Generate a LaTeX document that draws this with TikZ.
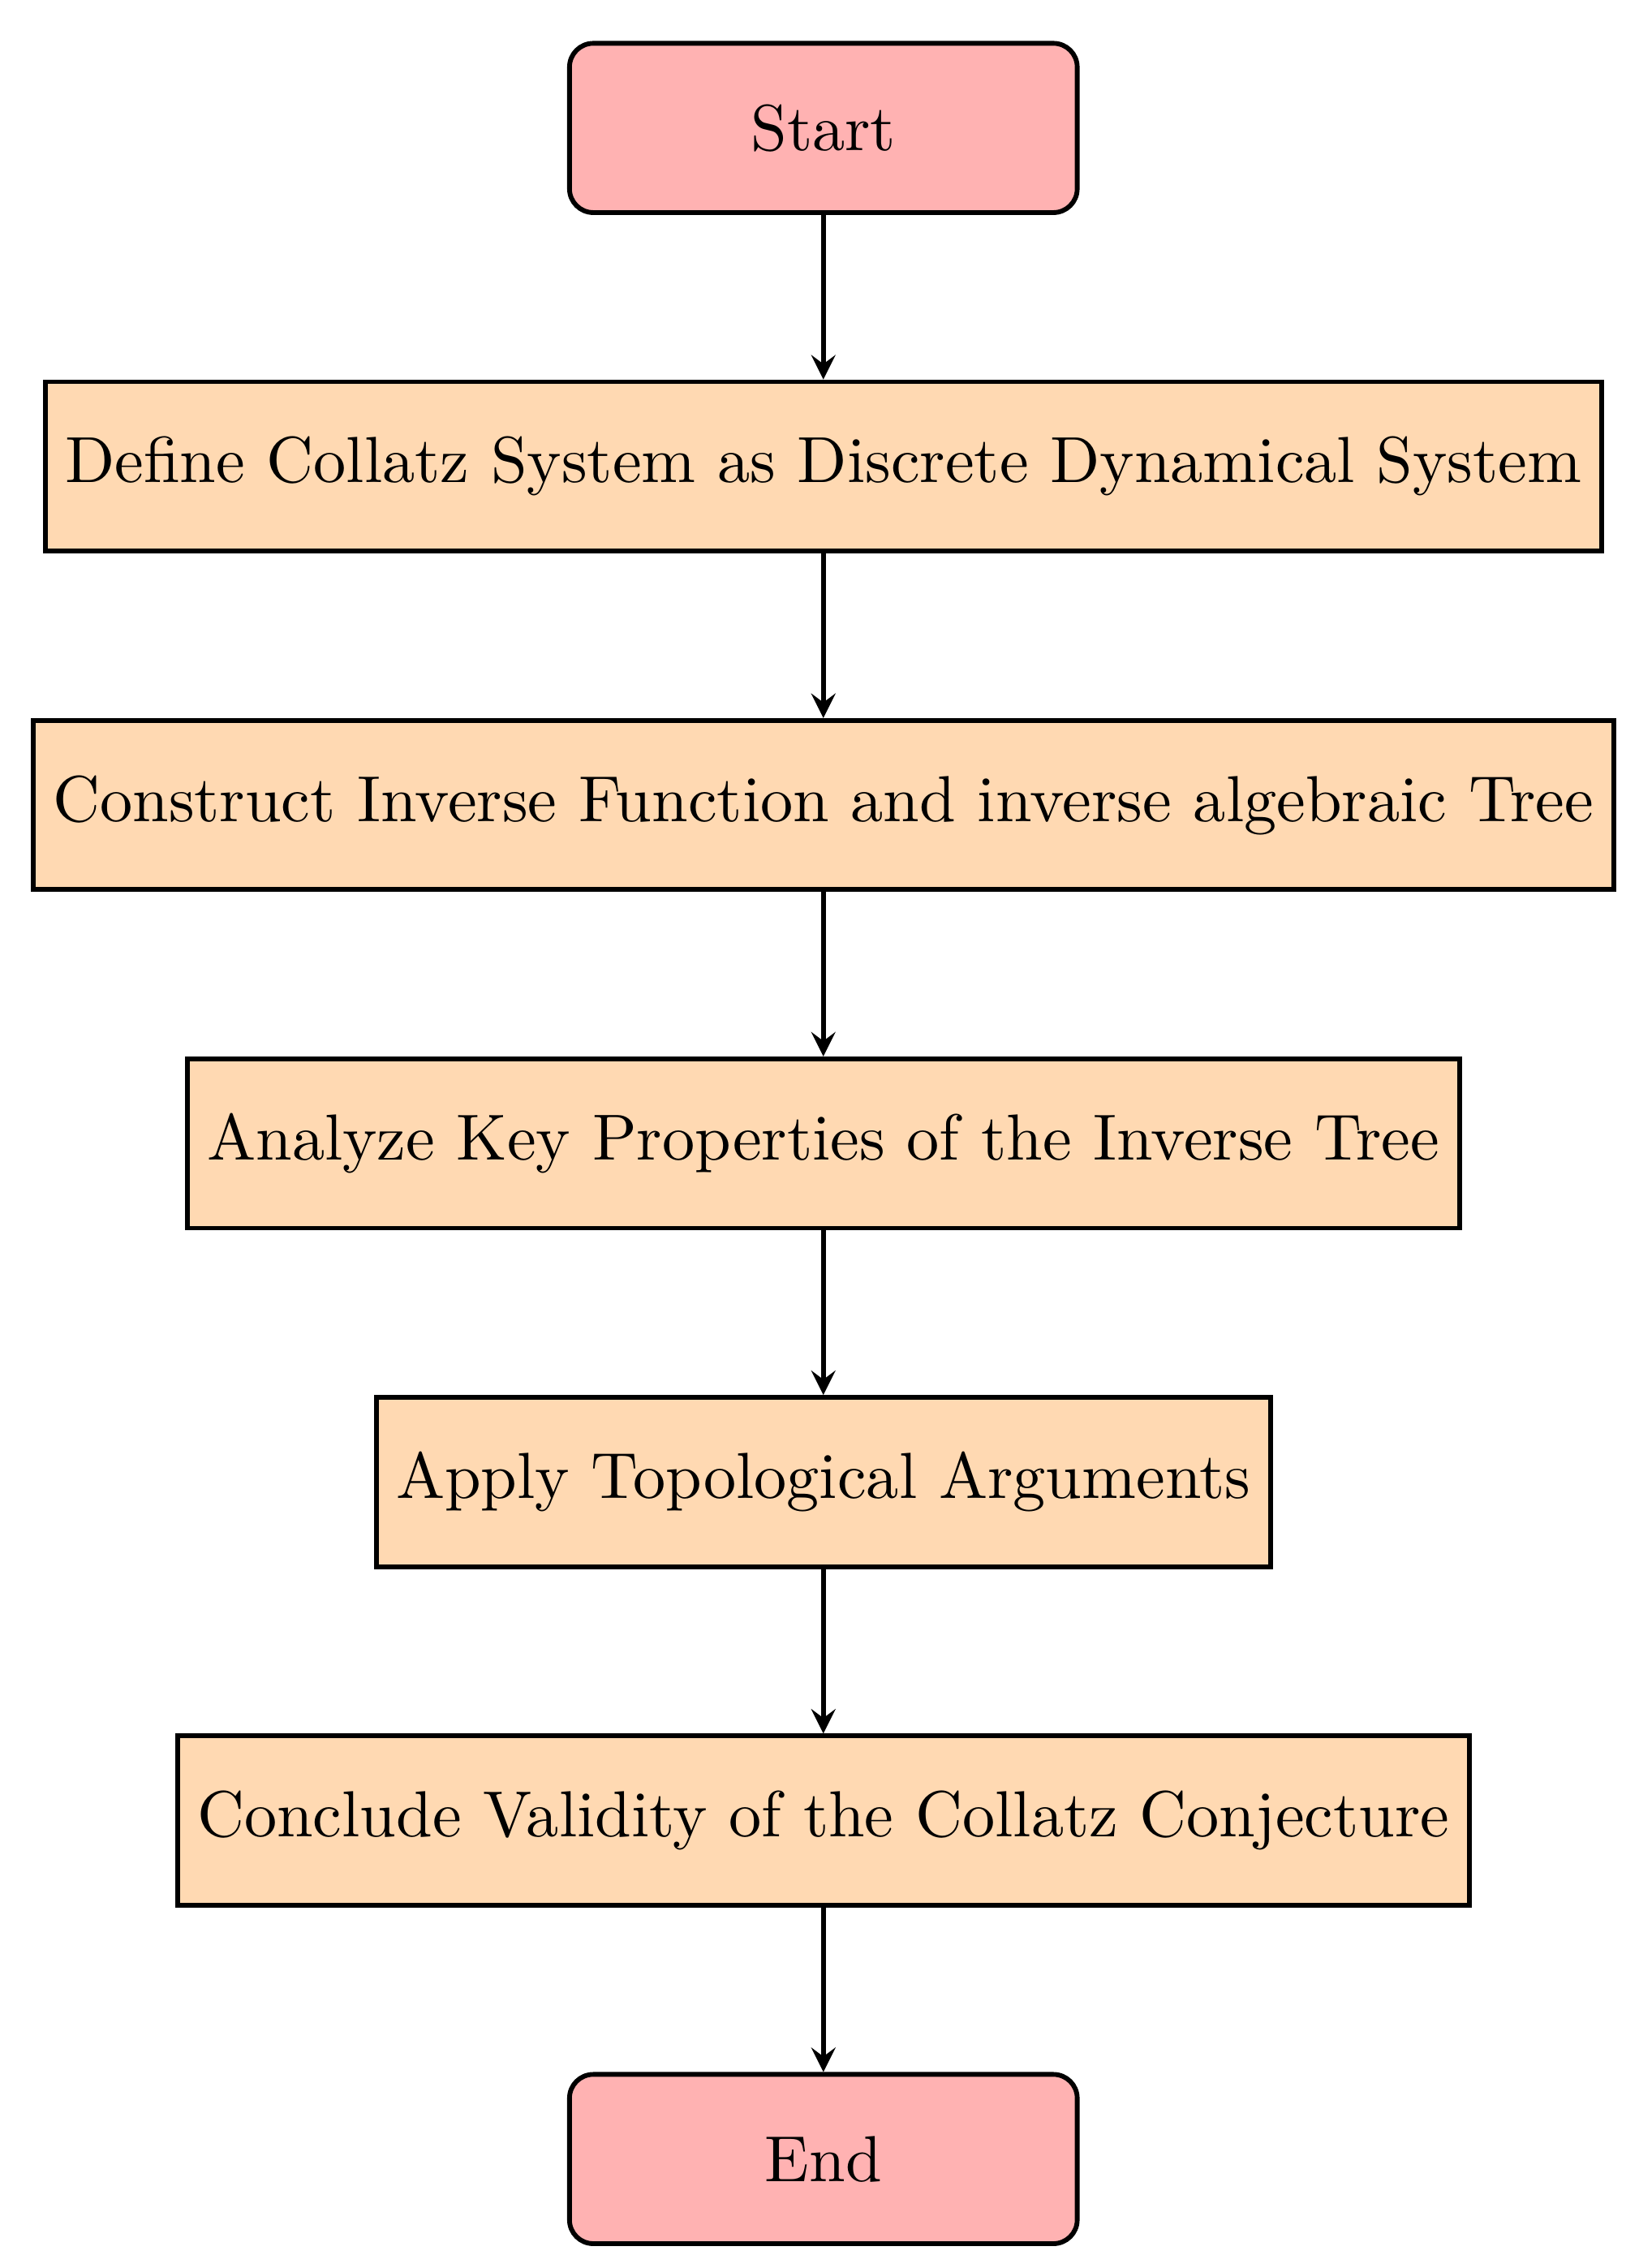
\documentclass[tikz,border=0pt]{standalone}
\usetikzlibrary{arrows.meta}
\begin{document}
\begin{tikzpicture}[
  every node/.style={font=\fontsize{10.95}{13.6}\selectfont},
  startstop/.style={rectangle, rounded corners, minimum width=3cm, minimum height=1cm, text centered, draw=black, thick, fill=red!30},
  process/.style={rectangle, minimum width=3cm, minimum height=1cm, text centered, draw=black, thick, fill=orange!30},
  arrow/.style={thick,->,>=stealth}
]
\useasboundingbox (-4.865,0) rectangle (4.815,-13.40);
\node (start) [startstop] at (0,-0.756) {Start};
\node (p1) [process] at (0,-2.756) {Define Collatz System as Discrete Dynamical System};
\node (p2) [process] at (0,-4.756) {Construct Inverse Function and inverse algebraic Tree};
\node (p3) [process] at (0,-6.756) {Analyze Key Properties of the Inverse Tree};
\node (p4) [process] at (0,-8.756) {Apply Topological Arguments};
\node (p5) [process] at (0,-10.756) {Conclude Validity of the Collatz Conjecture};
\node (stop) [startstop] at (0,-12.756) {End};
\draw [arrow] (start) -- (p1);
\draw [arrow] (p1) -- (p2);
\draw [arrow] (p2) -- (p3);
\draw [arrow] (p3) -- (p4);
\draw [arrow] (p4) -- (p5);
\draw [arrow] (p5) -- (stop);
\end{tikzpicture}
\end{document}
